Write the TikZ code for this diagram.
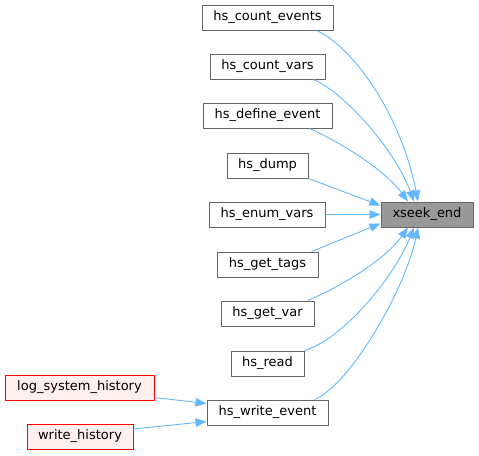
\documentclass[tikz,border=0pt]{standalone}
\usepackage{fontspec}
\setmainfont{DejaVu Sans}
\usetikzlibrary{arrows.meta}
\definecolor{edgeblue}{HTML}{63B8FF}
\definecolor{boxgray}{HTML}{666666}
\definecolor{hlfill}{HTML}{999999}
\definecolor{redfill}{HTML}{FFF0F0}
\tikzset{
  fn/.style={draw=boxgray, fill=white, line width=1pt, inner sep=0pt, minimum height=25pt,
    font=\fontsize{13}{15}\selectfont},
  cur/.style={fn, fill=hlfill},
  ext/.style={fn, draw=red, fill=redfill},
  edge/.style={draw=edgeblue, line width=0.9pt, -{Triangle[length=11pt,width=8.5pt]}},
}
\begin{document}
\begin{tikzpicture}[x=1pt,y=-1pt]
\useasboundingbox (0,0) rectangle (479,455);
\node[fn, minimum width=131pt] (cev) at (267.5,17.5) {hs\_count\_events};
\node[fn, minimum width=115pt] (cvars) at (267.5,66.5) {hs\_count\_vars};
\node[fn, minimum width=129pt] (def) at (267.5,115.5) {hs\_define\_event};
\node[fn, minimum width=81pt] (dump) at (267.5,165.5) {hs\_dump};
\node[fn, minimum width=116pt] (enum) at (267,214.5) {hs\_enum\_vars};
\node[cur, minimum width=92pt] (xs) at (427,214.5) {xseek\_end};
\node[fn, minimum width=101pt] (tags) at (267.5,264.5) {hs\_get\_tags};
\node[fn, minimum width=93pt] (var) at (267.5,313.5) {hs\_get\_var};
\node[fn, minimum width=73pt] (read) at (267.5,363.5) {hs\_read};
\node[fn, minimum width=121pt] (write) at (267.5,412.5) {hs\_write\_event};
\node[ext, minimum width=149pt] (log) at (79.5,387.5) {log\_system\_history};
\node[ext, minimum width=106pt] (wh) at (80,436.5) {write\_history};

\draw[edge] ([xshift=-17pt]cev.south east) .. controls (350,45) and (400,110) .. ([xshift=-9pt]xs.north);
\draw[edge] ([xshift=-12pt]cvars.south east) .. controls (345,93) and (395,150) .. ([xshift=-13pt]xs.north);
\draw[edge] ([xshift=-23pt]def.south east) .. controls (340,142) and (385,170) .. ([xshift=-19pt]xs.north);
\draw[edge] (dump.south east) -- ([yshift=-4pt]xs.north west);
\draw[edge] (enum.east) -- (xs.west);
\draw[edge] ([xshift=-7pt]tags.north east) -- ([yshift=4pt]xs.south west);
\draw[edge] ([xshift=-7pt]var.north east) .. controls (340,287) and (385,260) .. ([xshift=-19pt]xs.south);
\draw[edge] (read.north east) .. controls (345,338) and (395,275) .. ([xshift=-13pt]xs.south);
\draw[edge] ([xshift=-14pt]write.north east) .. controls (350,385) and (405,290) .. ([xshift=-9pt]xs.south);
\draw[edge] ([yshift=3pt]log.south east) -- ([yshift=-4pt]write.north west);
\draw[edge] ([yshift=7.5pt]wh.east) -- ([yshift=4pt]write.south west);
\end{tikzpicture}
\end{document}
